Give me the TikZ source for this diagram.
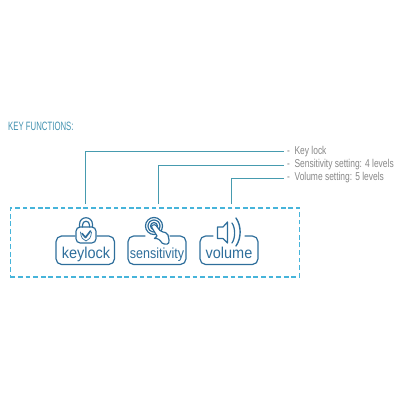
\documentclass[tikz,border=0pt]{standalone}
\usepackage{fontspec}
\setmainfont[FakeStretch=0.74]{Liberation Sans}
\newfontfamily\keyfont[FakeStretch=0.92]{Liberation Sans}
\usetikzlibrary{positioning, calc}
\definecolor{KeyBlue}{RGB}{46, 110, 155}
\definecolor{DashBlue}{RGB}{70, 180, 218}
\definecolor{LeadTeal}{RGB}{70, 155, 175}
\definecolor{TitleBlue}{RGB}{65, 145, 175}
\definecolor{NoteGrey}{RGB}{135, 135, 135}

\begin{document}
\begin{tikzpicture}[
  x=0.025cm, y=-0.025cm,
  lead/.style={draw=LeadTeal, line width=0.7pt},
  note/.style={anchor=west, text=NoteGrey, font=\fontsize{8.1}{9}\selectfont, inner sep=2pt},
  keyword/.style={anchor=base, text=KeyBlue, font=\keyfont\fontsize{11.2}{12}\selectfont, inner sep=0pt},
  icon/.style={draw=KeyBlue, line width=0.85pt, line join=round, line cap=round}
]
  \useasboundingbox (0,0) rectangle (400,400);

  %% Title
  \node[anchor=west, inner sep=0pt, text=TitleBlue, font=\fontsize{8.6}{9}\selectfont, xscale=0.87] (title) at (8,126) {KEY FUNCTIONS:};

  %% Dashed frame
  \node[draw=DashBlue, line width=0.75pt, dash pattern=on 3.4pt off 2pt, minimum width=7.225cm, minimum height=1.725cm, inner sep=0pt] (frame) at (155,242.5) {};

  %% Notes
  \node[note] (notelock)  at (284,151.5) {-\ \ Key lock};
  \node[note] (notesens)  at (284,165)   {-\ \ Sensitivity setting: 4 levels};
  \node[note] (notevol)   at (284,178)   {-\ \ Volume setting: 5 levels};

  %% Leader lines
  \coordinate (leadlock) at (85,204);
  \coordinate (leadsens) at (158,204);
  \coordinate (leadvol)  at (231,204);
  \draw[lead] (leadlock) |- (notelock.west);
  \draw[lead] (leadsens) |- (notesens.west);
  \draw[lead] (leadvol)  |- (notevol.west);

  %% Key words
  \node[keyword] (keylock) at (86,258)  {keylock};
  \node[keyword, font=\keyfont\fontsize{10.4}{12}\selectfont, xscale=0.93] (sensitivity) at (157,258) {sensitivity};
  \node[keyword] (volume)  at (229,258) {volume};

  %% Key outlines, open above the icon
  \draw[icon] (75,236) -- (61,236) [rounded corners=4] -- (56,236) -- (56,264.5) -- (114.5,264.5) -- (114.5,236) -- (97,236);
  \draw[icon] (145,236) -- (134,236) [rounded corners=4] -- (128,236) -- (128,264.5) -- (186,264.5) -- (186,236) -- (170,236);
  \draw[icon] (213,236) -- (206,236) [rounded corners=4] -- (200,236) -- (200,264.5) -- (258,264.5) -- (258,236) -- (245,236);

  %% Lock
  \draw[icon, rounded corners=3] (76,227) rectangle (96,243);
  \draw[icon] (79.5,227) -- (79.5,224.5) .. controls (79.5,215.5) and (92.5,215.5) .. (92.5,224.5) -- (92.5,227);
  \draw[icon] (82.5,227) -- (82.5,225) .. controls (82.5,220) and (89.5,220) .. (89.5,225) -- (89.5,227);
  \draw[icon, line width=1.2pt] (82,233.5) -- (85.5,237.5) -- (90.5,231);
  \draw[icon, line width=0.5pt] (80.5,232) .. controls (81,238) and (83,240) .. (86,241) .. controls (89,240) and (91,238) .. (91.5,232);

  %% Touch rings
  \draw[icon] (154,226) circle (8.5);
  \draw[icon] (154,226) circle (6);
  \draw[icon] (154,226) circle (3.5);

  %% Hand
  \draw[icon, fill=white] (151.5,227) -- (157,236) -- (154.5,238.5) .. controls (158,238) and (160,240) .. (162,243) .. controls (165,245) and (170,245) .. (169,240) -- (168,235) .. controls (167,232) and (164,232.5) .. (163,232) -- (160,230.5) -- (156,225.5) .. controls (155,224) and (151,225) .. (151.5,227) -- cycle;

  %% Speaker
  \draw[icon] (217.5,227) -- (223,227) -- (227.5,222) -- (227.5,243) -- (223,238.5) -- (217.5,238.5) -- cycle;
  \draw[icon] (232,223) .. controls (235.5,228) and (235.5,238) .. (232,243);
  \draw[icon, line width=1pt] (236,218) .. controls (241.5,226) and (241.5,238) .. (236,246);
\end{tikzpicture}
\end{document}
